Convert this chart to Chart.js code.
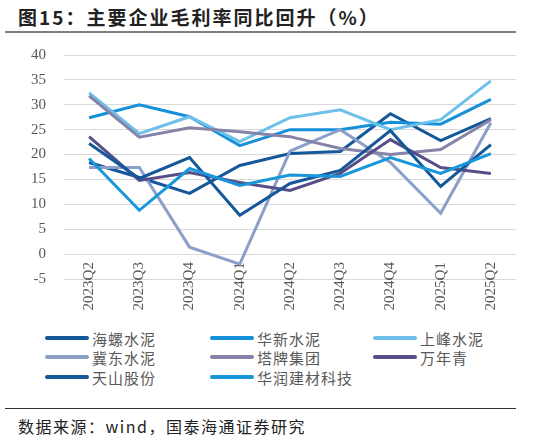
<!DOCTYPE html>
<html>
<head>
<meta charset="utf-8">
<script src="https://cdn.jsdelivr.net/npm/chart.js@4.4.1/dist/chart.umd.min.js"></script>
<style>
  html, body { margin: 0; padding: 0; background: #fff; }
  #page { position: relative; width: 534px; height: 436px; overflow: hidden; font-family: "Noto Sans CJK SC", sans-serif; }
  #title { position: absolute; left: 18px; top: 3px; font-size: 19px; font-weight: bold; color: #222; letter-spacing: 2px; white-space: nowrap; }
  #rule-top { position: absolute; left: 5px; top: 31px; width: 511px; height: 2px; background: #808080; }
  #wrap { position: absolute; left: 0; top: 28px; width: 534px; height: 297px; }
  #legend { position: absolute; left: 0; top: 328px; width: 534px; height: 60px; }
  .item { position: absolute; height: 20px; display: flex; align-items: center; font-size: 15px; color: #595959; white-space: nowrap; letter-spacing: 1px; }
  .item i { display: inline-block; width: 44px; height: 4px; border-radius: 2px; margin-right: 3px; }
  #rule-bot { position: absolute; left: 5px; top: 408px; width: 511px; height: 1px; background: #333; }
  #source { position: absolute; left: 18px; top: 414px; font-size: 16px; color: #222; white-space: nowrap; letter-spacing: 1.5px; }
</style>
</head>
<body>
<div id="page">
  <div id="title">图15：主要企业毛利率同比回升（%）</div>
  <div id="rule-top"></div>
  <div id="wrap"><canvas id="chart"></canvas></div>
  <div id="legend"></div>
  <div id="rule-bot"></div>
  <div id="source">数据来源：wind，国泰海通证券研究</div>
</div>
<script>
const quarters = ["2023Q2", "2023Q3", "2023Q4", "2024Q1", "2024Q2", "2024Q3", "2024Q4", "2025Q1", "2025Q2"];

const conch = [18.4, 15.4, 12.2, 17.8, 20.2, 20.6, 28.2, 22.8, 27.2];      // 海螺水泥
const huaxin = [27.4, 30.0, 27.6, 21.8, 25.0, 25.0, 26.5, 26.1, 31.1];     // 华新水泥
const shangfeng = [32.4, 24.2, 27.6, 22.6, 27.4, 29.0, 25.0, 27.0, 34.8];  // 上峰水泥
const jidong = [17.4, 17.4, 1.4, -2.0, 20.7, 25.0, 18.4, 8.2, 26.4];       // 冀东水泥
const tapai = [31.8, 23.5, 25.4, 24.6, 23.6, 21.2, 20.0, 21.0, 27.0];      // 塔牌集团
const wannianqing = [23.6, 14.8, 16.4, 14.4, 12.8, 16.2, 23.0, 17.4, 16.2]; // 万年青
const tianshan = [22.2, 15.2, 19.4, 7.8, 14.2, 16.8, 24.8, 13.6, 22.0];    // 天山股份
const crBuilding = [19.2, 8.8, 17.2, 13.8, 15.9, 15.6, 19.4, 16.2, 20.2];  // 华润建材科技

const seriesNames = ["海螺水泥", "华新水泥", "上峰水泥", "冀东水泥", "塔牌集团", "万年青", "天山股份", "华润建材科技"];
const seriesValues = [conch, huaxin, shangfeng, jidong, tapai, wannianqing, tianshan, crBuilding];
const seriesColors = ["#15589a", "#1690d8", "#6ec0ea", "#8aa0c8", "#8683a8", "#574f88", "#15589a", "#1897db"];

const yMin = -5, yMax = 40, yStep = 5;

const datasets = seriesNames.map((name, i) => ({
  label: name,
  data: seriesValues[i],
  borderColor: seriesColors[i],
  backgroundColor: seriesColors[i],
  borderWidth: 3,
  pointRadius: 0,
  tension: 0,
  order: -i   // later series on top, like the source
}));

const tickFont = { family: "'Liberation Serif', 'Times New Roman', serif", size: 15 };

const chart = new Chart(document.getElementById("chart"), {
  type: "line",
  data: { labels: quarters, datasets },
  options: {
    responsive: true,
    maintainAspectRatio: false,
    animation: false,
    layout: { padding: { top: 4, right: 18, bottom: 46, left: 0 } },
    plugins: { legend: { display: false }, tooltip: { enabled: false } },
    scales: {
      x: {
        type: "category",
        offset: true,
        position: { y: 0 },
        grid: { display: false, drawTicks: false },
        border: { display: false },
        ticks: { font: tickFont, color: "#595959", maxRotation: 90, minRotation: 90, padding: 8, autoSkip: false }
      },
      y: {
        min: yMin, max: yMax,
        grid: { color: "#d9d9d9", lineWidth: 1, drawTicks: false },
        border: { display: false },
        ticks: { stepSize: yStep, font: tickFont, color: "#595959", padding: 18 },
        afterFit: s => { s.width = 64; }
      }
    }
  }
});

// legend in three columns, built from the chart's own datasets
const cols = [45, 210, 373];
const rows = [328, 347, 367];
const legend = document.getElementById("legend");
chart.data.datasets.forEach((ds, i) => {
  const el = document.createElement("div");
  el.className = "item";
  el.style.left = cols[i % 3] + "px";
  el.style.top = (rows[Math.floor(i / 3)] - 328) + "px";
  el.innerHTML = `<i style="background:${ds.borderColor}"></i>${ds.label}`;
  legend.appendChild(el);
});
</script>
</body>
</html>
